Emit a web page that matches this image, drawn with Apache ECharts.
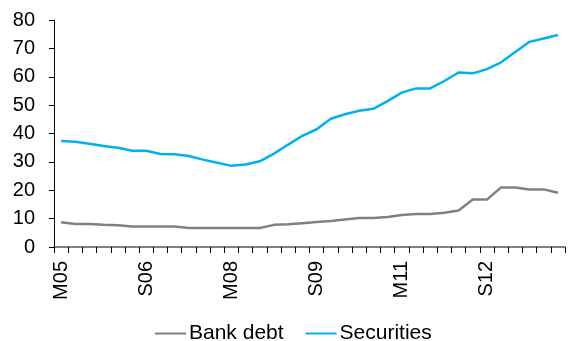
<!DOCTYPE html>
<html>
<head>
<meta charset="utf-8">
<script src="https://cdn.jsdelivr.net/npm/echarts@6/dist/echarts.min.js"></script>
<style>
  html, body { margin: 0; padding: 0; background: #fff; }
  #chart { width: 572px; height: 341px; }
</style>
</head>
<body>
<div id="chart"></div>
<script>
// Quarter-end labels (M = March, J = June, S = September, D = December)
const categories = [
  'M05','J05','S05','D05','M06','J06','S06','D06',
  'M07','J07','S07','D07','M08','J08','S08','D08',
  'M09','J09','S09','D09','M10','J10','S10','D10',
  'M11','J11','S11','D11','M12','J12','S12','D12',
  'M13','J13','S13','D13'
];

const bankDebt = [
  8.7, 8.1, 8.1, 7.8, 7.7, 7.2, 7.2, 7.2, 7.2, 6.7, 6.7, 6.7,
  6.7, 6.7, 6.7, 7.8, 8.0, 8.4, 8.8, 9.2, 9.7, 10.2, 10.2, 10.6,
  11.3, 11.6, 11.6, 12.1, 12.9, 16.7, 16.7, 21.0, 21.0, 20.3, 20.3, 19.1
];

const securities = [
  37.4, 37.1, 36.4, 35.6, 35.0, 33.9, 33.9, 32.8, 32.7, 32.1, 30.8, 29.7,
  28.6, 29.1, 30.2, 32.9, 36.1, 39.2, 41.5, 45.2, 46.8, 48.0, 48.7, 51.4,
  54.4, 55.9, 55.9, 58.5, 61.5, 61.2, 62.7, 65.1, 68.7, 72.3, 73.5, 74.7
];

const yTicks = { min: 0, max: 80, interval: 10 };

const font = 'Liberation Sans, Arial, sans-serif';
const chart = echarts.init(document.getElementById('chart'), null, { renderer: 'canvas' });

chart.setOption({
  animation: false,
  backgroundColor: '#ffffff',
  textStyle: { fontFamily: font },
  grid: { left: 54, right: 7, top: 20, bottom: 94, containLabel: false },
  legend: {
    top: 318,
    left: 150,
    itemWidth: 31,
    itemHeight: 2,
    itemGap: 22,
    icon: 'rect',
    textStyle: { fontFamily: font, fontSize: 21, color: '#000', padding: [0, 0, 0, -2] },
    data: ['Bank debt', 'Securities']
  },
  xAxis: {
    type: 'category',
    data: categories,
    boundaryGap: true,
    axisLine: { lineStyle: { color: '#595959', width: 1.5 } },
    axisTick: { show: true, interval: 0, length: 6, lineStyle: { color: '#000' } },
    axisLabel: {
      interval: 5,
      rotate: 90,
      margin: 14,
      fontFamily: font,
      fontSize: 20,
      color: '#000'
    },
    splitLine: { show: false }
  },
  yAxis: {
    type: 'value',
    min: yTicks.min,
    max: yTicks.max,
    interval: yTicks.interval,
    axisLine: { show: true, lineStyle: { color: '#000', width: 1 } },
    axisTick: { show: true, length: 5, lineStyle: { color: '#000' } },
    axisLabel: { margin: 19, fontFamily: font, fontSize: 20, color: '#000' },
    splitLine: { show: false }
  },
  series: [
    {
      name: 'Bank debt',
      type: 'line',
      data: bankDebt,
      symbol: 'none',
      lineStyle: { color: '#808080', width: 2.5 },
      itemStyle: { color: '#808080' }
    },
    {
      name: 'Securities',
      type: 'line',
      data: securities,
      symbol: 'none',
      lineStyle: { color: '#00B0F0', width: 2.5 },
      itemStyle: { color: '#00B0F0' }
    }
  ]
});
</script>
</body>
</html>
